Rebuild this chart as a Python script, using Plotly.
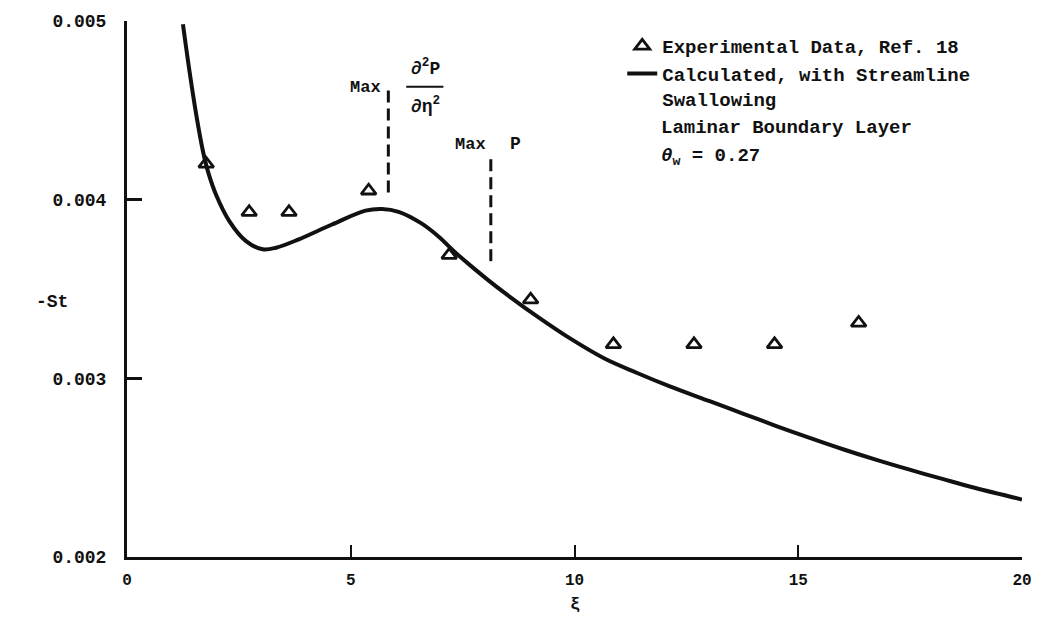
import plotly.graph_objects as go

# Experimental data (Ref. 18)
exp_xi = [1.77, 2.73, 3.62, 5.40, 7.20, 9.02, 10.87, 12.67, 14.47, 16.35]
exp_st = [0.00420, 0.00393, 0.00393, 0.00405, 0.00369, 0.00344, 0.00319, 0.00319, 0.00319, 0.00331]

# Calculated curve, with streamline swallowing
calc_xi = [1.25, 1.40, 1.55, 1.70, 1.81, 1.99, 2.29, 2.66, 3.03, 3.33, 3.84, 4.58, 5.33, 5.70, 6.07,
           6.58, 6.96, 7.33, 7.69, 8.07, 8.44, 9.18, 9.91, 10.67, 11.40, 12.13, 13.02, 13.76, 14.51,
           15.24, 16.00, 16.73, 17.47, 18.22, 18.96, 20.00]
calc_st = [0.004982, 0.004713, 0.004472, 0.004268, 0.004157, 0.004028, 0.003879, 0.003768, 0.003722,
           0.003731, 0.003778, 0.003861, 0.003939, 0.003948, 0.003932, 0.003867, 0.003794, 0.003706,
           0.003628, 0.003550, 0.003478, 0.003344, 0.003222, 0.003111, 0.003030, 0.002955, 0.002872,
           0.002803, 0.002733, 0.002668, 0.002603, 0.002545, 0.002490, 0.002437, 0.002386, 0.002322]

# Marker lines: Max d2p/deta2 and Max p
max_d2p_xi = [5.84, 5.84]
max_d2p_st = [0.00404, 0.00462]
max_p_xi = [8.13, 8.13]
max_p_st = [0.003656, 0.00423]

x_ticks = [0, 5, 10, 15, 20]
x_tick_text = ["0", "5", "10", "15", "20"]
y_ticks = [0.002, 0.003, 0.004, 0.005]
y_tick_text = ["0.002", "0.003", "0.004", "0.005"]

FONT = "Liberation Mono"
BLACK = "#111111"


def bfont(size):
    return dict(family=FONT, size=size, color=BLACK, weight="bold")


fig = go.Figure()

fig.add_trace(go.Scatter(
    x=exp_xi, y=exp_st, mode="markers", name="Experimental Data, Ref. 18",
    marker=dict(symbol="triangle-up-open", size=13, color=BLACK, line=dict(width=2.8, color=BLACK)),
))
fig.add_trace(go.Scatter(
    x=calc_xi, y=calc_st, mode="lines", name="Calculated, with Streamline<br>Swallowing",
    line=dict(color=BLACK, width=4, shape="spline", smoothing=1.0),
))
for xs, ys in [(max_d2p_xi, max_d2p_st), (max_p_xi, max_p_st)]:
    fig.add_trace(go.Scatter(
        x=xs, y=ys, mode="lines", showlegend=False,
        line=dict(color=BLACK, width=3, dash="12px,6px"),
    ))

annotations = [
    dict(x=5.73, y=0.004630, text="Max", xanchor="right", font=bfont(17)),
    dict(x=6.67, y=0.004740, text="∂<sup>2</sup>P", xanchor="center", font=bfont(18)),
    dict(x=6.67, y=0.004525, text="∂η<sup>2</sup>", xanchor="center", font=bfont(18)),
    dict(x=8.07, y=0.004310, text="Max", xanchor="right", font=bfont(17)),
    dict(x=8.69, y=0.004310, text="P", xanchor="center", font=bfont(18)),
]
anns = []
for a in annotations:
    a.update(xref="x", yref="y", showarrow=False, yanchor="middle")
    anns.append(a)

# Legend-side notes
anns.append(dict(xref="paper", yref="paper", x=(662 - 127) / 900, y=(557 - 124) / 541,
                 text="Laminar Boundary Layer", showarrow=False, xanchor="left",
                 yanchor="middle", font=bfont(19)))
anns.append(dict(xref="paper", yref="paper", x=(662 - 127) / 900, y=(557 - 153) / 541,
                 text="<i>θ</i><sub>w</sub> = 0.27", showarrow=False, xanchor="left",
                 yanchor="middle", font=bfont(19)))
# Axis titles
anns.append(dict(xref="paper", yref="paper", x=(52 - 127) / 900, y=(557 - 300) / 541,
                 text="-St", showarrow=False, xanchor="center", yanchor="middle",
                 font=bfont(18)))
anns.append(dict(xref="paper", yref="paper", x=0.5, y=-(605 - 557) / 541,
                 text="ξ", showarrow=False, xanchor="center", yanchor="middle",
                 font=bfont(17)))

# Fraction bar
shapes = [dict(type="line", xref="x", yref="y", x0=6.24, x1=7.07, y0=0.004632, y1=0.004632,
               line=dict(color=BLACK, width=2))]

fig.update_layout(
    width=1044, height=618,
    margin=dict(l=127, r=17, t=15, b=61),
    paper_bgcolor="white", plot_bgcolor="white",
    showlegend=True,
    legend=dict(x=(625 - 127) / 900, y=(557 - 22) / 541, xanchor="left", yanchor="top",
                bgcolor="rgba(0,0,0,0)", font=bfont(19), valign="top",
                tracegroupgap=2, itemwidth=30),
    annotations=anns, shapes=shapes,
    xaxis=dict(range=[0, 20], tickvals=x_ticks, ticktext=x_tick_text,
               showgrid=False, zeroline=False, showline=True, linecolor=BLACK, linewidth=3,
               ticks="inside", ticklen=12, tickwidth=2, tickcolor=BLACK,
               tickfont=bfont(16), ticklabelstandoff=6),
    yaxis=dict(range=[0.002, 0.005], tickvals=y_ticks, ticktext=y_tick_text,
               showgrid=False, zeroline=False, showline=True, linecolor=BLACK, linewidth=3,
               ticks="inside", ticklen=15, tickwidth=2.5, tickcolor=BLACK,
               tickfont=bfont(18), ticklabelstandoff=14),
)

fig.write_html("out.html")
